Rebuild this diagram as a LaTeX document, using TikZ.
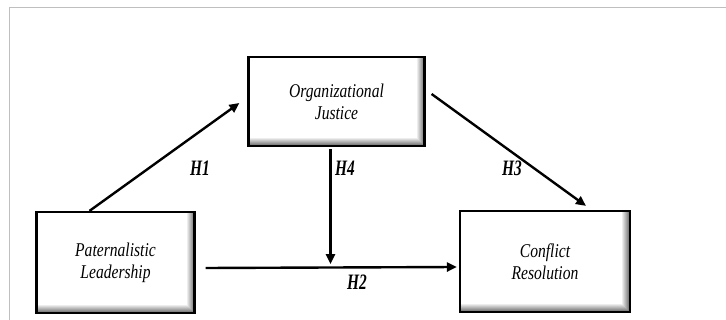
\documentclass[tikz,border=0pt]{standalone}
\usepackage{fontspec}
\setmainfont{Liberation Serif}[FakeStretch=0.8]
\newfontfamily\hypfont{Liberation Serif}[FakeStretch=0.7]
\usetikzlibrary{arrows.meta}

\tikzset{
  varbox/.style={draw, line width=2.2pt, fill=white, align=center,
    font=\fontsize{19.5}{22}\selectfont\itshape,
    path picture={
      \foreach \i [evaluate=\i as \c using int(7*\i), evaluate=\i as \d using int(8-\i)] in {1,...,7}
        \draw[black!\c, line width=1.1pt]
          ([yshift=\d pt]path picture bounding box.south west)
          -- ([xshift=-\d pt,yshift=\d pt]path picture bounding box.south east)
          -- ([xshift=-\d pt]path picture bounding box.north east);
    }},
  hyp/.style={font=\hypfont\fontsize{22}{24}\selectfont\bfseries\itshape},
  arr/.style={line width=2.4pt, -{Triangle[length=10pt,width=9pt]}}
}

\begin{document}
\begin{tikzpicture}[x=1pt,y=-1pt]
    \useasboundingbox (0,0) rectangle (726,320);

    % frame
    \draw[black!25, line width=1pt] (9,320) -- (9,8) -- (726,8);

    %Left box
    \node[varbox, minimum width=158pt, minimum height=101pt] (pl) at (115.5,262.5) {Paternalistic\\Leadership};
    %Top box
    \node[varbox, minimum width=176pt, minimum height=89pt] (oj) at (336.5,101.5) {Organizational\\Justice};
    %Right box
    \node[varbox, minimum width=170pt, minimum height=101pt] (cr) at (545,261.5) {Conflict\\Resolution};

    %H2 first, H4 ends just above it
    \draw[arr] ([xshift=10pt,yshift=-5.5pt]pl.east) -- ([xshift=-2pt,yshift=-5.5pt]cr.west);
    \coordinate (mod) at ([xshift=-6pt,yshift=-117pt]oj.south);

    \draw[arr] ([xshift=-26pt]pl.north) -- ([xshift=-8pt,yshift=-1.5pt]oj.west);
    \draw[arr] ([xshift=6pt,yshift=7.5pt]oj.east) -- ([xshift=41pt,yshift=4pt]cr.north);
    \draw[arr] ([xshift=-6pt,yshift=-2pt]oj.south) -- (mod);

    %labels
    \node[hyp] (h1) at (200,168) {H1};
    \node[hyp] (h4) at (345,168) {H4};
    \node[hyp] (h3) at (512,168) {H3};
    \node[hyp] (h2) at (357,282) {H2};
\end{tikzpicture}
\end{document}
